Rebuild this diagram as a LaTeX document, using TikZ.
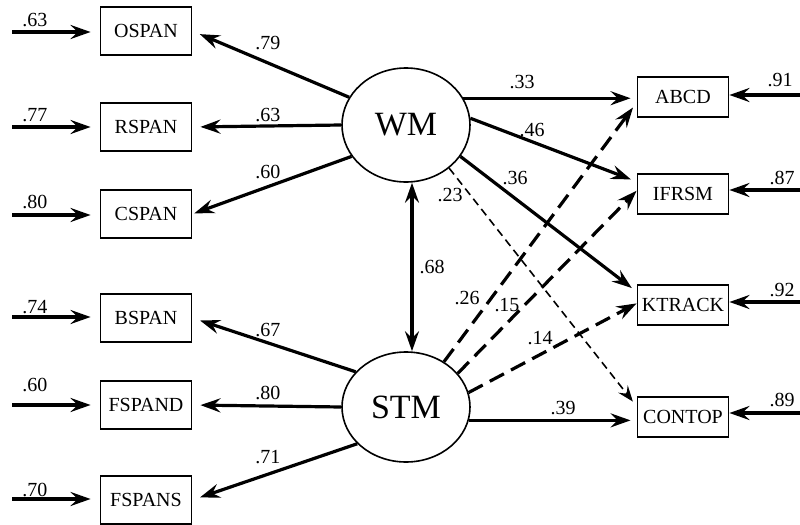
\documentclass[tikz,border=0pt]{standalone}
\usepackage{fontspec}
\setmainfont{Liberation Serif}
\usetikzlibrary{arrows.meta,shapes.geometric}

\begin{document}
\begin{tikzpicture}[x=0.5pt,y=-0.5pt,
  ind/.style={draw, line width=0.9pt, minimum width=45.5pt, minimum height=24pt, inner sep=0pt, font=\fontsize{10}{11}\selectfont},
  indr/.style={ind, minimum height=20pt},
  lat/.style={draw, ellipse, line width=0.8pt, minimum width=64pt, minimum height=57pt, inner sep=0pt, font=\fontsize{17}{18}\selectfont},
  lbl/.style={inner sep=0pt, font=\fontsize{10}{11}\selectfont},
  ld/.style={line width=1.6pt, -{Stealth[length=10pt,width=7pt,inset=3.5pt]}},
  dsh/.style={ld, dash pattern=on 8pt off 4pt},
  dshthin/.style={line width=0.8pt, dash pattern=on 4pt off 2.5pt, -{Stealth[length=8pt,width=6pt,inset=3pt]}}]

\useasboundingbox (0,0) rectangle (800,525);

\coordinate (iO) at (12,32);
\coordinate (iR) at (12,127);
\coordinate (iC) at (12,215);
\coordinate (iB) at (12,317);
\coordinate (iD) at (12,405);
\coordinate (iS) at (12,499);
\coordinate (eA) at (800,95);
\coordinate (eI) at (800,190);
\coordinate (eK) at (800,302);
\coordinate (eC) at (800,413);

\node [ind] (OSPAN) at (146,31) {OSPAN};
\node [ind] (RSPAN) at (146,127) {RSPAN};
\node [ind] (CSPAN) at (146,214) {CSPAN};
\node [ind] (BSPAN) at (146,318) {BSPAN};
\node [ind] (FSPAND) at (146,405) {FSPAND};
\node [ind] (FSPANS) at (146,500) {FSPANS};

\node [indr] (ABCD) at (683,97) {ABCD};
\node [indr] (IFRSM) at (683,194) {IFRSM};
\node [indr] (KTRACK) at (683,305) {KTRACK};
\node [indr] (CONTOP) at (683,417) {CONTOP};

\node [lat] (WM) at (406,125) {WM};
\node [lat, minimum height=55pt] (STM) at (406,407) {STM};

% error terms
\draw [ld, shorten >=4.5pt] (iO) -- (iO -| OSPAN.west);
\draw [ld, shorten >=4.5pt] (iR) -- (iR -| RSPAN.west);
\draw [ld, shorten >=4.5pt] (iC) -- (iC -| CSPAN.west);
\draw [ld, shorten >=4.5pt] (iB) -- (iB -| BSPAN.west);
\draw [ld, shorten >=4.5pt] (iD) -- (iD -| FSPAND.west);
\draw [ld, shorten >=4.5pt] (iS) -- (iS -| FSPANS.west);
\draw [ld] (eA) -- (eA -| ABCD.east);
\draw [ld] (eI) -- (eI -| IFRSM.east);
\draw [ld] (eK) -- (eK -| KTRACK.east);
\draw [ld] (eC) -- (eC -| CONTOP.east);

% loadings
\draw [ld, shorten >=4pt] (WM.154) -- (OSPAN.east);
\draw [ld, shorten >=4pt] (WM.180) -- (RSPAN.east);
\draw [ld, shorten >=1pt] (WM.210) -- (CSPAN.east);
\draw [ld, shorten >=4pt] (STM.145) -- (BSPAN.east);
\draw [ld, shorten >=4pt] (STM.180) -- (FSPAND.east);
\draw [ld, shorten >=4pt] (STM.217) -- (FSPANS.east);

% paths
\draw [ld, shorten >=3pt] (WM.25) -- (WM.25 -| ABCD.west);
\draw [ld, shorten >=3pt] (WM.6) -- (IFRSM.165);
\draw [ld, shorten >=3pt] (WM.-30) -- (KTRACK.164);
\draw [dshthin, shorten >=3pt] (WM.-45) -- (CONTOP.167);
\draw [dsh, shorten >=3pt] (STM.50) -- (ABCD.187);
\draw [dsh] (STM.33) -- (IFRSM.176);
\draw [dsh] (STM.13) -- (KTRACK.178);
\draw [ld, shorten >=3pt] (STM.-12) -- (STM.-12 -| CONTOP.west);
\draw [ld, {Stealth[length=10pt,width=7pt,inset=3.5pt]}-{Stealth[length=10pt,width=7pt,inset=3.5pt]}] ([xshift=3pt]WM.south) -- ([xshift=3pt]STM.north);

\node [lbl] (eO) at (35,20) {.63};
\node [lbl] (eR) at (35,115) {.77};
\node [lbl] (eCS) at (35,202) {.80};
\node [lbl] (eBS) at (35,307) {.74};
\node [lbl] (eFD) at (35,385) {.60};
\node [lbl] (eFS) at (35,490) {.70};
\node [lbl] (eAB) at (780,80) {.91};
\node [lbl] (eIF) at (782,178) {.87};
\node [lbl] (eKT) at (782,290) {.92};
\node [lbl] (eCO) at (782,400) {.89};

\node [lbl] (lO) at (268,43) {.79};
\node [lbl] (lR) at (268,115) {.63};
\node [lbl] (lC) at (268,172) {.60};
\node [lbl] (lB) at (268,330) {.67};
\node [lbl] (lD) at (268,393) {.80};
\node [lbl] (lS) at (268,457) {.71};
\node [lbl] (pA) at (522,82) {.33};
\node [lbl] (pI) at (532,130) {.46};
\node [lbl] (pK) at (515,178) {.36};
\node [lbl] (pC) at (450,195) {.23};
\node [lbl] (sA) at (467,298) {.26};
\node [lbl] (sI) at (507,305) {.15};
\node [lbl] (sK) at (540,338) {.14};
\node [lbl] (sC) at (563,408) {.39};
\node [lbl] (r) at (432,267) {.68};

\end{tikzpicture}
\end{document}
